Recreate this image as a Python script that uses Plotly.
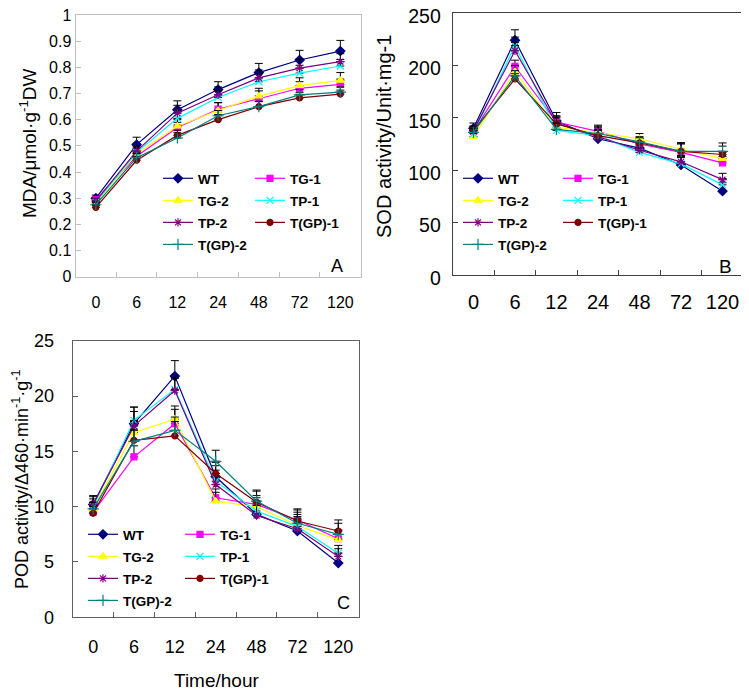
import plotly.graph_objects as go

# ---------------- data ----------------
hours = ["0", "6", "12", "24", "48", "72", "120"]
lines = ["WT", "TG-1", "TG-2", "TP-1", "TP-2", "T(GP)-1", "T(GP)-2"]

mda = {
    "WT":      [0.300, 0.505, 0.638, 0.715, 0.780, 0.828, 0.862],
    "TG-1":    [0.295, 0.460, 0.570, 0.640, 0.680, 0.720, 0.735],
    "TG-2":    [0.280, 0.470, 0.575, 0.635, 0.690, 0.730, 0.750],
    "TP-1":    [0.285, 0.475, 0.605, 0.685, 0.745, 0.778, 0.805],
    "TP-2":    [0.290, 0.480, 0.625, 0.695, 0.760, 0.797, 0.822],
    "T(GP)-1": [0.265, 0.445, 0.540, 0.600, 0.650, 0.683, 0.698],
    "T(GP)-2": [0.275, 0.455, 0.530, 0.615, 0.650, 0.695, 0.705],
}
mda_err = {
    "WT":      [0.012, 0.028, 0.034, 0.030, 0.035, 0.037, 0.041],
    "TG-1":    [0.010, 0.020, 0.020, 0.025, 0.030, 0.025, 0.020],
    "TG-2":    [0.010, 0.020, 0.025, 0.030, 0.030, 0.030, 0.030],
    "TP-1":    [0.010, 0.020, 0.030, 0.025, 0.030, 0.030, 0.025],
    "TP-2":    [0.010, 0.020, 0.030, 0.030, 0.030, 0.035, 0.030],
    "T(GP)-1": [0.008, 0.015, 0.020, 0.020, 0.020, 0.020, 0.015],
    "T(GP)-2": [0.010, 0.015, 0.020, 0.020, 0.020, 0.020, 0.020],
}

sod = {
    "WT":      [140, 224, 147, 130, 121, 105, 80],
    "TG-1":    [137, 199, 146, 137, 125, 117, 107],
    "TG-2":    [132, 194, 141, 136, 130, 120, 111],
    "TP-1":    [135, 219, 138, 133, 117, 106, 86],
    "TP-2":    [138, 214, 145, 132, 119, 108, 91],
    "T(GP)-1": [138, 187, 144, 133, 126, 118, 115],
    "T(GP)-2": [136, 190, 139, 135, 127, 118, 118],
}
sod_err = {
    "WT":      [5, 10, 8, 6, 5, 8, 8],
    "TG-1":    [4, 6, 6, 6, 5, 8, 6],
    "TG-2":    [4, 6, 6, 6, 5, 6, 6],
    "TP-1":    [4, 8, 6, 6, 5, 6, 6],
    "TP-2":    [4, 8, 6, 6, 5, 6, 6],
    "T(GP)-1": [4, 5, 6, 6, 5, 8, 8],
    "T(GP)-2": [4, 5, 6, 6, 5, 8, 8],
}

pod = {
    "WT":      [10.2, 17.5, 21.8, 12.7, 9.3, 7.8, 4.9],
    "TG-1":    [9.5, 14.5, 17.5, 10.8, 10.2, 8.8, 7.1],
    "TG-2":    [9.8, 16.7, 17.9, 10.5, 10.0, 8.3, 7.0],
    "TP-1":    [10.0, 17.8, 20.6, 12.3, 9.6, 8.2, 5.8],
    "TP-2":    [10.2, 17.3, 20.5, 12.0, 9.2, 8.0, 5.5],
    "T(GP)-1": [9.4, 16.0, 16.4, 13.0, 10.4, 8.7, 7.8],
    "T(GP)-2": [9.8, 15.9, 16.9, 14.1, 10.5, 8.5, 7.5],
}
pod_err = {
    "WT":      [0.8, 1.5, 1.4, 1.0, 1.0, 1.0, 0.9],
    "TG-1":    [0.6, 1.0, 1.3, 0.8, 0.8, 1.0, 0.8],
    "TG-2":    [0.6, 1.0, 1.2, 0.8, 0.8, 1.0, 0.8],
    "TP-1":    [0.7, 1.2, 1.1, 1.0, 0.9, 0.9, 0.7],
    "TP-2":    [0.7, 1.3, 1.1, 1.0, 0.9, 0.9, 0.7],
    "T(GP)-1": [0.6, 1.0, 1.3, 1.0, 1.0, 1.0, 1.0],
    "T(GP)-2": [0.6, 1.0, 1.2, 1.0, 1.0, 1.0, 1.0],
}

# ---------------- styles ----------------
colors = {"WT": "#000080", "TG-1": "#FF00FF", "TG-2": "#FFFF00", "TP-1": "#00FFFF",
          "TP-2": "#800080", "T(GP)-1": "#800000", "T(GP)-2": "#008080"}
symbols = {"WT": "diamond", "TG-1": "square", "TG-2": "triangle-up", "TP-1": "x-thin-open",
           "TP-2": "asterisk-open", "T(GP)-1": "circle", "T(GP)-2": "cross-thin-open"}
msize = {"WT": 7, "TG-1": 6, "TG-2": 7, "TP-1": 7, "TP-2": 7, "T(GP)-1": 6, "T(GP)-2": 8}
left_col = ["WT", "TG-2", "TP-2", "T(GP)-2"]

FONT = "Liberation Sans, Arial, sans-serif"
OFF = 8                      # page body margin offset
W, H = 749 - OFF, 691 - OFF

fig = go.Figure()

panels = [
    (mda, mda_err, "x", "y", "legend", "legend2", "a"),
    (sod, sod_err, "x2", "y2", "legend3", "legend4", "b"),
    (pod, pod_err, "x3", "y3", "legend5", "legend6", "c"),
]
for vals, errs, xa, ya, lg1, lg2, tag in panels:
    for name in lines:
        fig.add_trace(go.Scatter(
            x=hours, y=vals[name], name=name, xaxis=xa, yaxis=ya,
            mode="lines+markers",
            legend=lg1 if name in left_col else lg2,
            legendgroup=tag + name,
            line=dict(color=colors[name], width=1.2),
            marker=dict(symbol=symbols[name], size=msize[name], color=colors[name],
                        line=dict(color=colors[name], width=1.2)),
            error_y=dict(type="data", array=errs[name], arrayminus=[0] * len(hours),
                         symmetric=False, color="black", thickness=1, width=4),
        ))


def px(x):
    return (x - OFF) / W


def py(y):
    return 1 - (y - OFF) / H


def xax(dom, lc, fs, anchor, standoff):
    return dict(domain=[px(dom[0]), px(dom[1])], type="category", range=[-0.5, 6.5],
                anchor=anchor, showline=True, mirror=True, linecolor=lc, linewidth=1,
                ticks="inside", ticklen=5, tickcolor=lc, tickson="boundaries",
                showgrid=False, zeroline=False, ticklabelstandoff=standoff, automargin=False,
                ticklabeloverflow="allow",
                tickfont=dict(family=FONT, size=fs, color="black"))


def yax(dom, rng, dt, lc, fs, anchor, standoff, shift=0):
    return dict(domain=[py(dom[1]), py(dom[0])], range=rng, dtick=dt, anchor=anchor,
                showline=True, mirror=True, linecolor=lc, linewidth=1,
                ticks="inside", ticklen=5, tickcolor=lc, showgrid=False, zeroline=False,
                ticklabelstandoff=standoff, ticklabelshift=shift,
                automargin=False, ticklabeloverflow="allow",
                tickfont=dict(family=FONT, size=fs, color="black"))


layout = dict(
    width=W, height=H, margin=dict(l=0, r=0, t=0, b=0, autoexpand=False),
    paper_bgcolor="white", plot_bgcolor="white",
    font=dict(family=FONT, color="black"),
    xaxis=xax((75.5, 360.7), "#BFBFBF", 16, "y", 11),
    yaxis=yax((15, 276.7), [0, 1], 0.1, "#BFBFBF", 16, "x", 0),
    xaxis2=xax((452.7, 743.3), "#404040", 20, "y2", 9),
    yaxis2=yax((13, 275), [0, 250], 50, "#404040", 19.5, "x2", 7, 3),
    xaxis3=xax((72.7, 358.7), "#606060", 18, "y3", 13),
    yaxis3=yax((340.7, 617.3), [0, 25], 5, "#606060", 18, "x3", 14),
)

leg_font = dict(family=FONT, size=13.5, color="black", weight="bold")
leg_pos = {
    "legend": (158, 163), "legend2": (250, 163),
    "legend3": (458, 163), "legend4": (558, 163),
    "legend5": (83, 519), "legend6": (180, 519),
}
for k, (lx, ly) in leg_pos.items():
    layout[k] = dict(x=px(lx), y=py(ly), xanchor="left", yanchor="top",
                     bgcolor="rgba(0,0,0,0)", borderwidth=0, font=leg_font,
                     tracegroupgap=1.5, itemwidth=30)


def label(text, x, y, size, angle=0):
    return dict(text=text, x=px(x), y=py(y), xref="paper", yref="paper",
                xanchor="center", yanchor="middle", textangle=angle, showarrow=False,
                font=dict(family=FONT, size=size, color="black"))


layout["annotations"] = [
    label("MDA/μmol·g<sup>-1</sup>DW", 28, 143, 19, -90),
    label("SOD activity/Unit·mg-1", 384, 137, 20, -90),
    label("POD activity/Δ460·min<sup>-1</sup>·g<sup>-1</sup>", 20, 479, 18, -90),
    label("Time/hour", 216, 680, 19),
    label("A", 337, 266, 18),
    label("B", 725, 266, 19),
    label("C", 343, 603, 18),
]

fig.update_layout(**layout)
fig.write_html("out.html")
